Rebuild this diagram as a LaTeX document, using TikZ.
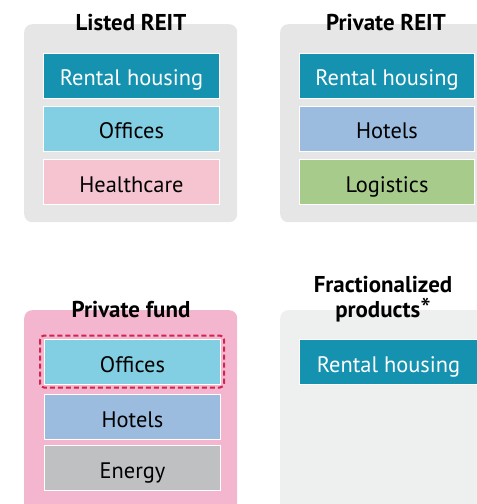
\documentclass[tikz,border=0pt]{standalone}
\usepackage{fontspec}
\setmainfont{PT Sans}
\definecolor{cTeal}{HTML}{1492B0}
\definecolor{cSky}{HTML}{82CEE2}
\definecolor{cRose}{HTML}{F6C3D0}
\definecolor{cPeri}{HTML}{9BBBDF}
\definecolor{cGreen}{HTML}{A6CB8B}
\definecolor{cGray}{HTML}{BFC0C2}
\definecolor{cPanel}{HTML}{E6E6E6}
\definecolor{cPink}{HTML}{F4B6CE}
\definecolor{cFrac}{HTML}{EEEFEF}
\definecolor{cRed}{HTML}{D0234F}
\begin{document}
\begin{tikzpicture}[x=1bp,y=-1bp,
  panel/.style={rounded corners=8bp, anchor=north west, inner sep=0pt},
  cell/.style={draw=white, line width=1bp, anchor=north west, minimum width=176bp,
    minimum height=45bp, inner sep=0pt, text height=20bp, text depth=0bp,
    text=black, font=\fontsize{22.5}{25}\selectfont},
  titletext/.style={font=\bfseries\fontsize{23}{25}\selectfont, align=center, inner sep=0pt, anchor=base}]
\useasboundingbox (0,0) rectangle (477,504);
\clip (0,0) rectangle (477,504);
% panels
\node[panel, fill=cPanel, minimum width=213bp, minimum height=198bp] (lp) at (24,24) {};
\node[panel, fill=cPanel, minimum width=230bp, minimum height=198bp] (pp) at (280,24) {};
\node[panel, fill=cPink, minimum width=213bp, minimum height=220bp] (fp) at (24,310) {};
\node[panel, fill=cFrac, minimum width=230bp, minimum height=220bp] (xp) at (280,310) {};
% titles
\node[titletext] (lt) at (131,31) {Listed REIT};
\node[titletext] (pt) at (386,31) {Private REIT};
\node[titletext] (ft) at (131,317.5) {Private fund};
\node[titletext] (xt1) at (383,292) {Fractionalized};
\node[titletext] (xt2) at (383,317) {products\raisebox{-2.5bp}{\fontsize{30}{25}\selectfont\mdseries*}};
% listed REIT cells
\node[cell, fill=cTeal, text=white] (l1) at (43,53) {Rental housing};
\node[cell, fill=cSky] (l2) at (43,106) {Offices};
\node[cell, fill=cRose] (l3) at (43,159) {Healthcare};
% private REIT cells
\node[cell, fill=cTeal, text=white, minimum width=175bp] (p1) at (299,53) {Rental housing};
\node[cell, fill=cPeri, minimum width=175bp] (p2) at (299,106) {Hotels};
\node[cell, fill=cGreen, minimum width=175bp] (p3) at (299,159) {Logistics};
% private fund cells
\node[cell, fill=cSky] (f1) at (44,339) {Offices};
\node[cell, fill=cPeri] (f2) at (44,394) {Hotels};
\node[cell, fill=cGray] (f3) at (44,445) {Energy};
\draw[cRed, line width=2bp, dash pattern=on 5bp off 3bp, rounded corners=4bp]
  (40,335.5) rectangle (224,387.5);
% fractionalized cells
\node[cell, fill=cTeal, text=white, minimum width=178bp] (x1) at (299,339) {Rental housing};
\end{tikzpicture}
\end{document}
